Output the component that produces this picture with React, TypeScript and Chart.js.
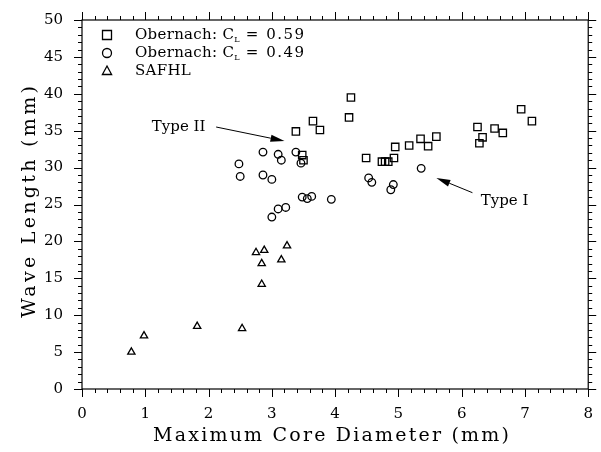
import React, { useEffect, useRef } from 'react';
import { Chart, registerables } from 'chart.js';

Chart.register(...registerables);

// ---- data ----
const xTickValues = [0, 1, 2, 3, 4, 5, 6, 7, 8];
const yTickValues = [0, 5, 10, 15, 20, 25, 30, 35, 40, 45, 50];

const obernach59X = [3.38, 3.48, 3.5, 3.65, 3.76, 4.22, 4.25, 4.49, 4.74, 4.79, 4.84, 4.93, 4.95, 5.17, 5.35, 5.47, 5.6, 6.25, 6.28, 6.33, 6.52, 6.65, 6.94, 7.11];
const obernach59Y = [34.9, 31.7, 31.0, 36.3, 35.1, 36.8, 39.5, 31.3, 30.8, 30.8, 30.8, 31.3, 32.8, 33.0, 33.9, 32.9, 34.2, 35.5, 33.3, 34.1, 35.3, 34.7, 37.9, 36.3];

const obernach49X = [2.48, 2.5, 2.86, 2.86, 3.0, 3.1, 3.15, 3.38, 3.46, 3.0, 3.1, 3.22, 3.48, 3.56, 3.63, 3.94, 4.53, 4.58, 4.88, 4.92, 5.36];
const obernach49Y = [30.5, 28.8, 32.1, 29.0, 28.4, 31.8, 31.0, 32.1, 30.6, 23.3, 24.4, 24.6, 26.0, 25.8, 26.1, 25.7, 28.6, 28.0, 27.0, 27.7, 29.9];

const safhlX = [0.78, 0.98, 1.82, 2.53, 2.75, 2.88, 2.84, 2.84, 3.15, 3.24];
const safhlY = [5.0, 7.2, 8.5, 8.2, 18.5, 18.8, 17.0, 14.2, 17.5, 19.4];

const xTitle = 'Maximum Core Diameter (mm)';
const yTitle = 'Wave Length (mm)';
const legendLabels = [
  { main: 'Obernach: C', sub: 'L', rest: ' = 0.59', style: 'rect' },
  { main: 'Obernach: C', sub: 'L', rest: ' = 0.49', style: 'circle' },
  { main: 'SAFHL', sub: '', rest: '', style: 'triangle' },
];

// annotations: [textX, textY, arrowFromX, arrowFromY, arrowToX, arrowToY]
const typeIILabel = 'Type II';
const typeIIPos = [1.95, 35.5, 2.12, 35.5, 3.2, 33.6];
const typeILabel = 'Type I';
const typeIPos = [6.3, 25.5, 6.17, 26.6, 5.6, 28.6];

const toPts = (xs: number[], ys: number[]) => xs.map((x, i) => ({ x, y: ys[i] }));

const SERIF = '"DejaVu Serif", serif';

function drawMarker(ctx: CanvasRenderingContext2D, style: string, x: number, y: number) {
  ctx.beginPath();
  if (style === 'rect') {
    ctx.rect(x - 4.5, y - 4.5, 9, 9);
  } else if (style === 'circle') {
    ctx.arc(x, y, 4.5, 0, Math.PI * 2);
  } else {
    ctx.moveTo(x, y - 5);
    ctx.lineTo(x + 4.6, y + 3.5);
    ctx.lineTo(x - 4.6, y + 3.5);
    ctx.closePath();
  }
  ctx.stroke();
}

function spacedText(ctx: any, text: string, cx: number, cy: number, target: number) {
  ctx.letterSpacing = '0px';
  const w = ctx.measureText(text).width;
  const ls = Math.max(0, (target - w) / text.length);
  ctx.letterSpacing = ls + 'px';
  ctx.textAlign = 'center';
  ctx.textBaseline = 'middle';
  ctx.fillText(text, cx + ls / 2, cy);
  ctx.letterSpacing = '0px';
}

function arrow(ctx: CanvasRenderingContext2D, x1: number, y1: number, x2: number, y2: number) {
  const ang = Math.atan2(y2 - y1, x2 - x1);
  const hl = 14, hw = 3.5;
  const bx = x2 - hl * Math.cos(ang), by = y2 - hl * Math.sin(ang);
  ctx.beginPath();
  ctx.moveTo(x1, y1);
  ctx.lineTo(bx, by);
  ctx.stroke();
  ctx.beginPath();
  ctx.moveTo(x2, y2);
  ctx.lineTo(bx + hw * Math.sin(ang), by - hw * Math.cos(ang));
  ctx.lineTo(bx - hw * Math.sin(ang), by + hw * Math.cos(ang));
  ctx.closePath();
  ctx.fill();
}

const framePlugin = {
  id: 'frame',
  afterDraw(chart: any) {
    const { ctx, chartArea: a, scales } = chart;
    const x = scales.x, y = scales.y;
    ctx.save();
    ctx.strokeStyle = '#000';
    ctx.fillStyle = '#000';
    ctx.lineWidth = 1.2;
    ctx.strokeRect(a.left, a.top, a.right - a.left, a.bottom - a.top);
    ctx.lineWidth = 1;
    ctx.beginPath();
    for (let i = 0; i <= 40; i++) {
      const px = Math.round(x.getPixelForValue(i * 0.2)) + 0.5;
      const len = i % 5 === 0 ? 8 : 4;
      ctx.moveTo(px, a.bottom);
      ctx.lineTo(px, a.bottom + len);
      ctx.moveTo(px, a.top);
      ctx.lineTo(px, a.top - len);
    }
    for (let i = 0; i <= 50; i++) {
      const py = Math.round(y.getPixelForValue(i)) + 0.5;
      const len = i % 5 === 0 ? 8 : 4;
      ctx.moveTo(a.left, py);
      ctx.lineTo(a.left - len, py);
      ctx.moveTo(a.right, py);
      ctx.lineTo(a.right + len, py);
    }
    ctx.stroke();

    // axis titles
    ctx.font = '19px ' + SERIF;
    spacedText(ctx, xTitle, 331, 436, 358);
    ctx.save();
    ctx.translate(30, 202);
    ctx.rotate(-Math.PI / 2);
    spacedText(ctx, yTitle, 0, 0, 235);
    ctx.restore();

    // legend
    ctx.lineWidth = 1.3;
    legendLabels.forEach((l, i) => {
      const cy = 35 + i * 18;
      drawMarker(ctx, l.style, 107, cy);
      ctx.font = '15px ' + SERIF;
      ctx.textAlign = 'left';
      ctx.textBaseline = 'middle';
      ctx.letterSpacing = '0.3px';
      let tx = 135;
      ctx.fillText(l.main, tx, cy);
      tx += ctx.measureText(l.main).width;
      if (l.sub) {
        ctx.letterSpacing = '0px';
        ctx.font = '8px ' + SERIF;
        ctx.fillText(l.sub, tx, cy + 5);
        tx += ctx.measureText(l.sub).width;
        ctx.font = '15px ' + SERIF;
        ctx.letterSpacing = '1.5px';
        ctx.fillText(l.rest, tx, cy);
      }
      ctx.letterSpacing = '0px';
    });

    // annotations
    ctx.font = '15px ' + SERIF;
    ctx.textBaseline = 'middle';
    ctx.textAlign = 'right';
    ctx.fillText(typeIILabel, x.getPixelForValue(typeIIPos[0]), y.getPixelForValue(typeIIPos[1]));
    ctx.textAlign = 'left';
    ctx.fillText(typeILabel, x.getPixelForValue(typeIPos[0]), y.getPixelForValue(typeIPos[1]));
    ctx.lineWidth = 1;
    arrow(ctx, x.getPixelForValue(typeIIPos[2]), y.getPixelForValue(typeIIPos[3]), x.getPixelForValue(typeIIPos[4]), y.getPixelForValue(typeIIPos[5]));
    arrow(ctx, x.getPixelForValue(typeIPos[2]), y.getPixelForValue(typeIPos[3]), x.getPixelForValue(typeIPos[4]), y.getPixelForValue(typeIPos[5]));
    ctx.restore();
  },
};

export default function App() {
  const ref = useRef<HTMLCanvasElement>(null);
  useEffect(() => {
    document.body.style.margin = '0';
    const canvas = ref.current!;
    const common = {
      borderColor: '#000',
      backgroundColor: 'rgba(0,0,0,0)',
      borderWidth: 1.3,
      showLine: false,
    };
    const chart = new Chart(canvas, {
      type: 'scatter',
      data: {
        datasets: [
          { ...common, label: 'Obernach: CL = 0.59', data: toPts(obernach59X, obernach59Y), pointStyle: 'rect', pointRadius: 5.2 },
          { ...common, label: 'Obernach: CL = 0.49', data: toPts(obernach49X, obernach49Y), pointStyle: 'circle', pointRadius: 3.8 },
          { ...common, label: 'SAFHL', data: toPts(safhlX, safhlY), pointStyle: 'triangle', pointRadius: 4.2 },
        ],
      },
      options: {
        responsive: false,
        animation: false,
        devicePixelRatio: 1,
        layout: { padding: { top: 15, right: 8, left: 0, bottom: 0 }, autoPadding: false },
        plugins: { legend: { display: false }, tooltip: { enabled: false } },
        scales: {
          x: {
            type: 'linear',
            min: 0,
            max: 8,
            afterBuildTicks: (s: any) => { s.ticks = xTickValues.map((v) => ({ value: v })); },
            afterFit: (s: any) => { s.height = 63; },
            grid: { display: false },
            border: { display: false },
            ticks: { padding: 8, color: '#000', maxRotation: 0, font: { family: SERIF, size: 15 } },
          },
          y: {
            type: 'linear',
            min: 0,
            max: 50,
            afterBuildTicks: (s: any) => { s.ticks = yTickValues.map((v) => ({ value: v })); },
            afterFit: (s: any) => { s.width = 82; },
            grid: { display: false },
            border: { display: false },
            ticks: { padding: 11, color: '#000', font: { family: SERIF, size: 15 } },
          },
        },
      } as any,
      plugins: [framePlugin],
    });
    return () => chart.destroy();
  }, []);
  return <canvas ref={ref} width={601} height={452} style={{ display: 'block' }} />;
}
